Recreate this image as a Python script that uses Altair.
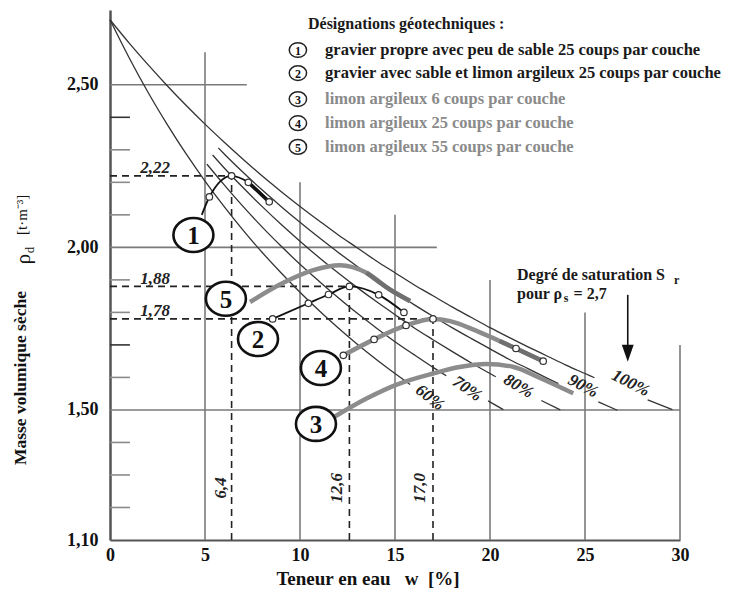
import altair as alt
import pandas as pd

FONT = "Liberation Serif"

# ---------------- saturation curves (Sr), rho_s = 2.7 ----------------
s60_w = [0, 1, 2, 3, 4, 5, 6, 7, 8, 9, 10, 11, 12, 13, 14, 15, 15.8]
s60_r = [2.700, 2.584, 2.477, 2.379, 2.288, 2.204, 2.126, 2.053, 1.985, 1.922, 1.862, 1.806, 1.753, 1.703, 1.656, 1.612, 1.578]
s70_w = [5.1, 6, 7, 8, 9, 10, 11, 12, 13, 14, 15, 16, 17, 17.7]
s70_r = [2.256, 2.193, 2.126, 2.063, 2.004, 1.948, 1.896, 1.846, 1.798, 1.753, 1.710, 1.670, 1.631, 1.605]
s70d_w = [19.9, 20.7]
s70d_r = [1.528, 1.501]
s80_w = [5.4, 6, 7, 8, 9, 10, 11, 12, 13, 14, 15, 16, 17, 18, 19, 20, 20.3]
s80_r = [2.284, 2.245, 2.184, 2.126, 2.071, 2.019, 1.969, 1.922, 1.877, 1.834, 1.793, 1.753, 1.716, 1.680, 1.645, 1.612, 1.602]
s80d_w = [22.7, 23.7]
s80d_r = [1.529, 1.500]
s90_w = [5.7, 6, 7, 8, 9, 10, 11, 12, 13, 14, 15, 16, 17, 18, 19, 20, 21, 22, 23, 23.6]
s90_r = [2.306, 2.288, 2.231, 2.177, 2.126, 2.077, 2.030, 1.985, 1.942, 1.901, 1.862, 1.824, 1.788, 1.753, 1.720, 1.688, 1.656, 1.627, 1.598, 1.581]
s90d_w = [25.7, 26.7]
s90d_r = [1.525, 1.499]
s100_w = [0, 1, 2, 3, 4, 5, 6, 7, 8, 9, 10, 11, 12, 13, 14, 15, 16, 17, 18, 19, 20, 21, 22, 23, 24, 25, 25.5]
s100_r = [2.700, 2.629, 2.562, 2.498, 2.437, 2.379, 2.324, 2.271, 2.220, 2.172, 2.126, 2.082, 2.039, 1.999, 1.959,
          1.922, 1.885, 1.851, 1.817, 1.785, 1.753, 1.723, 1.694, 1.666, 1.638, 1.612, 1.599]
s100d_w = [28.3, 29.6]
s100d_r = [1.531, 1.501]

sat_labels = ["60%", "70%", "80%", "90%", "100%"]
sat_lbl_w = [16.84, 18.8, 21.5, 24.9, 27.4]
sat_lbl_r = [1.538, 1.565, 1.573, 1.573, 1.582]
sat_lbl_angle = [38, 35, 31, 28, 27]

# ---------------- compaction (Proctor) curves ----------------
c1_w = [4.83, 5.23, 6.4, 7.28, 8.38]
c1_r = [2.10, 2.155, 2.22, 2.20, 2.14]
c1_mk_w = [5.23, 6.4, 7.28, 8.38]
c1_mk_r = [2.155, 2.22, 2.20, 2.14]

c2_w = [8.56, 10.44, 11.5, 12.6, 14.14, 15.47]
c2_r = [1.78, 1.828, 1.855, 1.88, 1.854, 1.80]

c3_w = [11.84, 13.5, 15.09, 17.0, 18.4, 19.8, 21.2, 22.6, 24.38]
c3_r = [1.48, 1.535, 1.578, 1.612, 1.632, 1.641, 1.633, 1.599, 1.551]

c4_w = [12.28, 13.9, 15.58, 17.0, 17.9, 19.1, 20.5, 21.37, 22.8]
c4_r = [1.668, 1.717, 1.76, 1.78, 1.773, 1.748, 1.712, 1.689, 1.65]
c4_mk_w = [12.28, 13.9, 15.58, 17.0, 21.37, 22.8]
c4_mk_r = [1.668, 1.717, 1.76, 1.78, 1.689, 1.65]

c5_w = [7.37, 9.12, 10.7, 12.1, 13.5, 14.74, 15.79]
c5_r = [1.832, 1.891, 1.93, 1.945, 1.922, 1.87, 1.835]

# optimum values
opt_w = [6.4, 12.6, 17.0]
opt_r = [2.22, 1.88, 1.78]
opt_w_txt = ["6,4", "12,6", "17,0"]
opt_r_txt = ["2,22", "1,88", "1,78"]

# curve number badges
num_txt = ["1", "2", "3", "4", "5"]
num_w = [4.39, 7.79, 10.84, 11.1, 6.1]
num_r = [2.038, 1.718, 1.457, 1.629, 1.842]

# grid (staircase) and minor ticks
grid_h_r = [2.5, 2.0, 1.5]
grid_h_w2 = [7.2, 17.2, 30]
grid_v_w = [5, 10, 15, 20, 25, 30]
grid_v_r2 = [2.60, 2.20, 2.10, 1.90, 1.80, 1.70]
tick_r = [1.2, 1.3, 1.4, 1.6, 1.7, 1.8, 1.9, 2.1, 2.2, 2.3, 2.4]
tick_dark = [1.7, 2.4]

# legend
legend_title = "Désignations géotechniques :"
legend_items = [
    "gravier propre avec peu de sable 25 coups par couche",
    "gravier avec sable et limon argileux 25 coups par couche",
    "limon argileux 6 coups par couche",
    "limon argileux 25 coups par couche",
    "limon argileux 55 coups par couche",
]
legend_r = [2.607, 2.536, 2.456, 2.382, 2.309]

# ---------------- helpers ----------------
XS = alt.Scale(domain=[0, 30], nice=False, zero=False)
YS = alt.Scale(domain=[1.1, 2.73], nice=False, zero=False)
XA = alt.Axis(values=[0, 5, 10, 15, 20, 25, 30], format="d", ticks=False, grid=False,
              domainColor="#555", domainWidth=2, labelFont=FONT, labelFontSize=18,
              labelFontWeight="bold", labelColor="#111", labelPadding=6, labelFlush=False, title=None)
YA = alt.Axis(values=[1.1, 1.5, 2.0, 2.5], labelExpr="replace(format(datum.value, '.2f'), '.', ',')",
              ticks=False, grid=False, domainColor="#555", domainWidth=2.5, labelFont=FONT,
              labelFontSize=18, labelFontWeight="bold", labelColor="#111", labelPadding=12,
              labelFlush=False, title=None)


def X(f="w"):
    return alt.X(f"{f}:Q", scale=XS, axis=XA)


def Y(f="r"):
    return alt.Y(f"{f}:Q", scale=YS, axis=YA)


def df(w, r, **extra):
    d = pd.DataFrame({"w": w, "r": r})
    for k, v in extra.items():
        d[k] = v
    return d


ELLIPSE = "M -1 0 A 1 0.85 0 1 0 1 0 A 1 0.85 0 1 0 -1 0 Z"
layers = []

# grid lines
gh = pd.DataFrame({"w": [0] * len(grid_h_r), "w2": grid_h_w2, "r": grid_h_r, "r2": grid_h_r})
gv = pd.DataFrame({"w": grid_v_w, "w2": grid_v_w, "r": [1.1] * len(grid_v_w), "r2": grid_v_r2})
grid = pd.concat([gh, gv], ignore_index=True)
layers.append(alt.Chart(grid).mark_rule(color="#7a7a7a", strokeWidth=1.6).encode(
    x=X(), x2="w2:Q", y=Y(), y2="r2:Q"))

ticks = pd.DataFrame({"w": [0] * len(tick_r), "w2": [1.05] * len(tick_r), "r": tick_r,
                      "dark": [t in tick_dark for t in tick_r]})
layers.append(alt.Chart(ticks).mark_rule(strokeWidth=1.6).encode(
    x=X(), x2="w2:Q", y=Y(),
    color=alt.condition("datum.dark", alt.value("#333"), alt.value("#8a8a8a"))))

# dashed optimum lines
dh = pd.DataFrame({"w": [0] * 3, "w2": opt_w, "r": opt_r, "r2": opt_r})
dv = pd.DataFrame({"w": opt_w, "w2": opt_w, "r": [1.1] * 3, "r2": opt_r})
layers.append(alt.Chart(pd.concat([dh, dv], ignore_index=True)).mark_rule(
    color="#222", strokeWidth=1.6, strokeDash=[7, 5]).encode(x=X(), x2="w2:Q", y=Y(), y2="r2:Q"))

# saturation curves
sat = pd.concat([
    df(s60_w, s60_r, seg="60"), df(s70_w, s70_r, seg="70"), df(s70d_w, s70d_r, seg="70d"),
    df(s80_w, s80_r, seg="80"), df(s80d_w, s80d_r, seg="80d"), df(s90_w, s90_r, seg="90"),
    df(s90d_w, s90d_r, seg="90d"), df(s100_w, s100_r, seg="100"), df(s100d_w, s100d_r, seg="100d"),
], ignore_index=True)
layers.append(alt.Chart(sat).mark_line(color="#333", strokeWidth=1.3, interpolate="monotone").encode(
    x=X(), y=Y(), detail="seg:N"))

# saturation labels
satl = pd.DataFrame({"w": sat_lbl_w, "r": sat_lbl_r, "t": sat_labels, "a": sat_lbl_angle})
layers.append(alt.Chart(satl).mark_text(font=FONT, fontSize=17, fontWeight="bold", fontStyle="italic",
                                        color="#222", baseline="middle", align="center").encode(
    x=X(), y=Y(), text="t:N", angle=alt.Angle("a:Q", scale=None)))

# gray compaction curves
for w, r in [(c3_w, c3_r), (c4_w, c4_r), (c5_w, c5_r)]:
    layers.append(alt.Chart(df(w, r)).mark_line(color="#8c8c8c", strokeWidth=4.5,
                                                 interpolate="monotone").encode(x=X(), y=Y()))
for w, r in [(c4_w[-3:], c4_r[-3:]), (c5_w[-3:], c5_r[-3:])]:
    layers.append(alt.Chart(df(w, r)).mark_line(color="#707070", strokeWidth=4.5,
                                                 interpolate="monotone").encode(x=X(), y=Y()))
# black compaction curves
for w, r in [(c1_w, c1_r), (c2_w, c2_r)]:
    layers.append(alt.Chart(df(w, r)).mark_line(color="#111", strokeWidth=1.8,
                                                 interpolate="monotone").encode(x=X(), y=Y()))
layers.append(alt.Chart(df(c1_w[-2:], c1_r[-2:])).mark_line(color="#111", strokeWidth=3.6).encode(
    x=X(), y=Y()))

# markers
mk = pd.concat([df(c1_mk_w, c1_mk_r), df(c2_w, c2_r), df(c4_mk_w, c4_mk_r)], ignore_index=True)
layers.append(alt.Chart(mk).mark_point(shape="circle", size=42, filled=True, fill="white",
                                        stroke="#333", strokeWidth=1.2, opacity=1).encode(x=X(), y=Y()))

# optimum value labels
ovh = pd.DataFrame({"w": [2.37] * 3, "r": [2.245, 1.903, 1.805], "t": opt_r_txt})
layers.append(alt.Chart(ovh).mark_text(font=FONT, fontSize=17, fontWeight="bold", fontStyle="italic",
                                       color="#222", align="center", baseline="middle").encode(
    x=X(), y=Y(), text="t:N"))
ovv = pd.DataFrame({"w": [5.84, 11.95, 16.3], "r": [1.26] * 3, "t": opt_w_txt})
layers.append(alt.Chart(ovv).mark_text(font=FONT, fontSize=17, fontWeight="bold", fontStyle="italic",
                                       color="#222", align="center", baseline="middle", angle=270).encode(
    x=X(), y=Y(), text="t:N"))

# number badges
badge = pd.DataFrame({"w": num_w, "r": num_r, "t": num_txt})
layers.append(alt.Chart(badge).mark_point(shape=ELLIPSE, size=1600, filled=True, fill="white",
                                           stroke="#111", strokeWidth=2.6, opacity=1).encode(x=X(), y=Y()))
layers.append(alt.Chart(badge).mark_text(font=FONT, fontSize=25, fontWeight="bold", color="#111",
                                          baseline="middle", align="center", dy=1).encode(
    x=X(), y=Y(), text="t:N"))

# legend
leg_c = pd.DataFrame({"w": [9.89] * 5, "r": legend_r, "t": num_txt})
layers.append(alt.Chart(leg_c).mark_point(shape=ELLIPSE, size=300, filled=True, fill="white",
                                           stroke="#222", strokeWidth=1.5, opacity=1).encode(x=X(), y=Y()))
layers.append(alt.Chart(leg_c).mark_text(font=FONT, fontSize=12, fontWeight="bold", color="#111",
                                          baseline="middle", align="center", dy=1).encode(
    x=X(), y=Y(), text="t:N"))
leg_t = pd.DataFrame({"w": [11.32] * 5, "r": legend_r, "t": legend_items,
                      "dark": [True, True, False, False, False]})
layers.append(alt.Chart(leg_t).mark_text(font=FONT, fontSize=16.5, fontWeight="bold", align="left",
                                          baseline="middle").encode(
    x=X(), y=Y(), text="t:N",
    color=alt.condition("datum.dark", alt.value("#1a1a1a"), alt.value("#8a8a8a"))))
layers.append(alt.Chart(df([10.42], [2.687], t=legend_title)).mark_text(
    font=FONT, fontSize=16, fontWeight="bold", align="left", baseline="middle", color="#1a1a1a").encode(
    x=X(), y=Y(), text="t:N"))

# saturation note + arrow
note = pd.DataFrame({"w": [21.42, 21.42, 24.4], "r": [1.915, 1.857, 1.857],
                     "t": ["Degré de saturation S", "pour ρ", "= 2,7"]})
layers.append(alt.Chart(note).mark_text(font=FONT, fontSize=16, fontWeight="bold", align="left",
                                         baseline="middle", color="#1a1a1a").encode(x=X(), y=Y(), text="t:N"))
subs = pd.DataFrame({"w": [29.68, 23.88], "r": [1.90, 1.844], "t": ["r", "s"]})
layers.append(alt.Chart(subs).mark_text(font=FONT, fontSize=12, fontWeight="bold", align="left",
                                         baseline="middle", color="#1a1a1a").encode(x=X(), y=Y(), text="t:N"))
arrow = pd.DataFrame({"w": [27.25], "w2": [27.25], "r": [1.854], "r2": [1.69]})
layers.append(alt.Chart(arrow).mark_rule(color="#111", strokeWidth=1.6).encode(
    x=X(), x2="w2:Q", y=Y(), y2="r2:Q"))
layers.append(alt.Chart(df([27.25], [1.674])).mark_point(
    shape="M -0.7 -1 L 0.7 -1 L 0 1 Z", size=289, filled=True, color="#111", opacity=1).encode(x=X(), y=Y()))

# axis titles
NB = "\u00a0"
layers.append(alt.Chart(df([13.58], [0.98], t=f"Teneur en eau{NB*3}w{NB*2}[%]")).mark_text(
    font=FONT, fontSize=19, fontWeight="bold", align="center", baseline="middle", color="#111").encode(
    x=X(), y=Y(), text="t:N"))
ytitle = pd.DataFrame({"w": [-4.68], "r": [1.598], "t": ["Masse volumique sèche"]})
layers.append(alt.Chart(ytitle).mark_text(font=FONT, fontSize=17.5, fontWeight="bold", align="center",
                                           baseline="middle", angle=270, color="#111").encode(
    x=X(), y=Y(), text="t:N"))
layers.append(alt.Chart(df([-4.53], [1.964], t="ρ")).mark_text(
    font=FONT, fontSize=21, align="center", baseline="middle", angle=270, color="#111").encode(
    x=X(), y=Y(), text="t:N"))
layers.append(alt.Chart(df([-4.22], [1.992], t="d")).mark_text(
    font=FONT, fontSize=13, align="center", baseline="middle", angle=270, color="#111").encode(
    x=X(), y=Y(), text="t:N"))
layers.append(alt.Chart(df([-4.63], [2.10], t="[t·m⁻³]")).mark_text(
    font=FONT, fontSize=15, align="center", baseline="middle", angle=270, color="#111").encode(
    x=X(), y=Y(), text="t:N"))

chart = alt.layer(*layers).properties(
    width=570, height=530,
    padding={"left": 110, "top": 10, "right": 56, "bottom": 52},
    autosize=alt.AutoSizeParams(type="none"),
    background="white",
).configure_view(stroke=None)

chart.save("out.html", embed_options={"renderer": "svg", "actions": False})
